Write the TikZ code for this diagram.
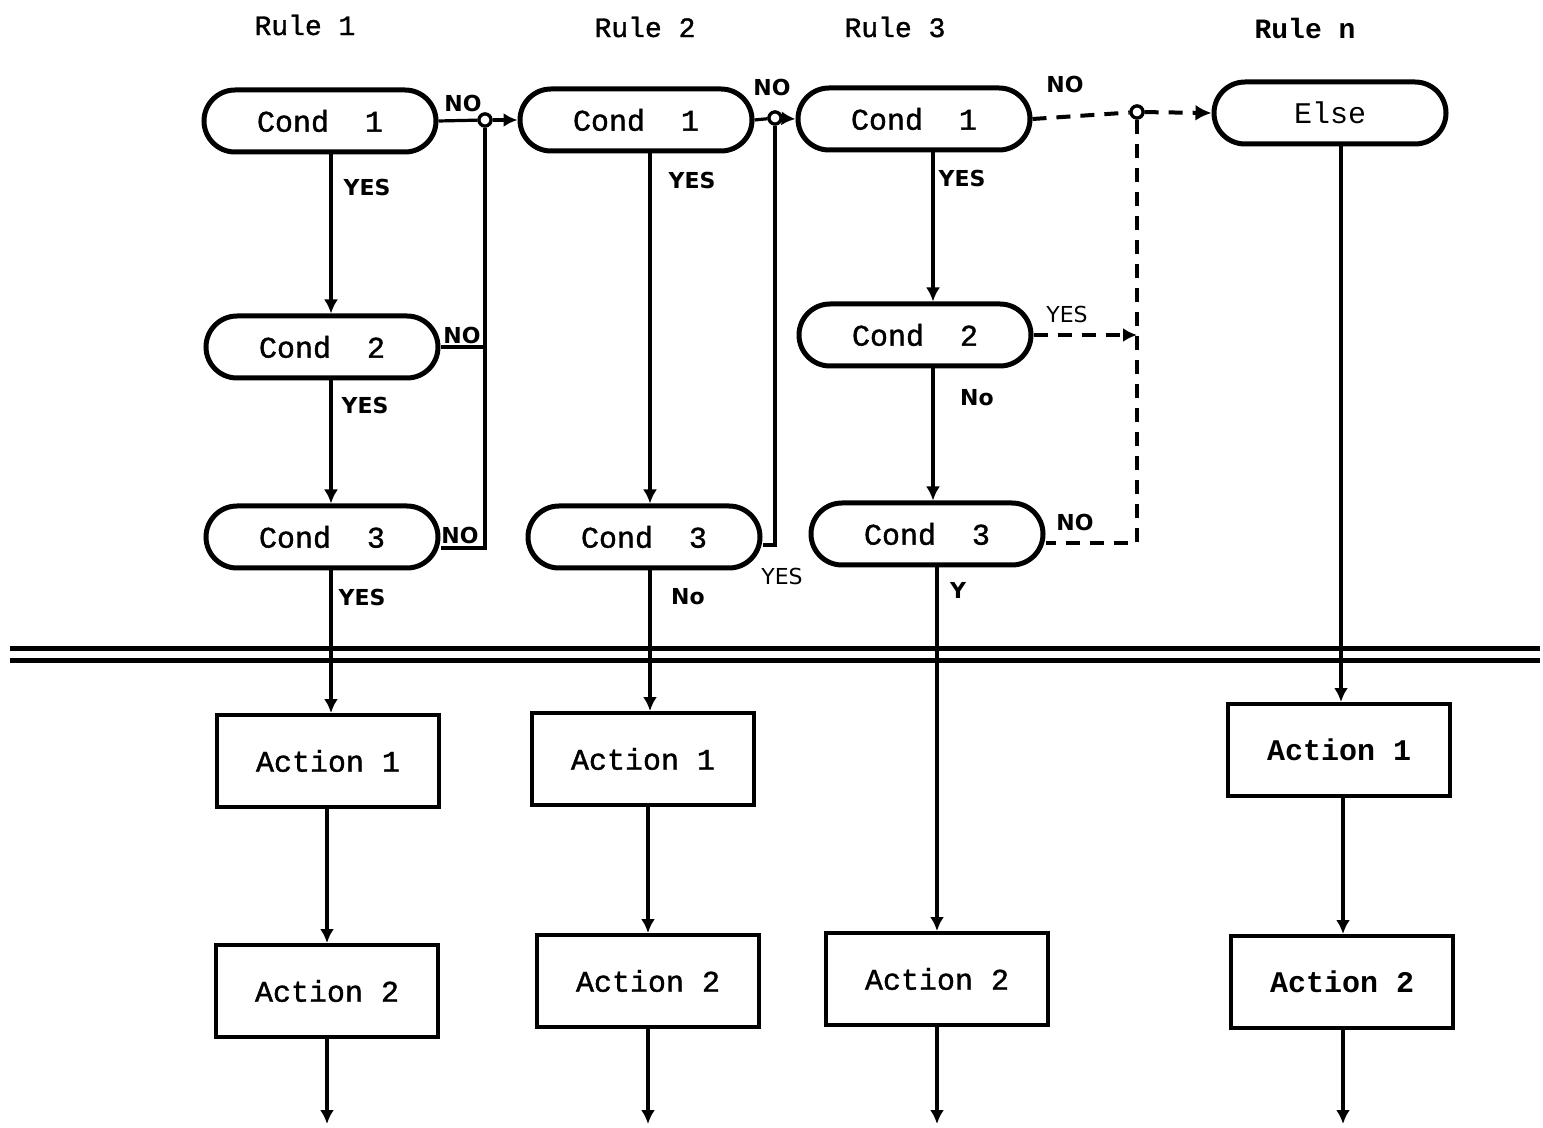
\documentclass[tikz,border=0pt]{standalone}
\usepackage{fontspec}
\setmonofont{Liberation Mono}
\newfontfamily\medmono{Liberation Mono}[FakeBold=1.3]
\newfontfamily\handfont{DejaVu Sans}
\usetikzlibrary{arrows.meta}
\begin{document}
\begin{tikzpicture}[x=0.5pt,y=-0.5pt,
  txt/.style={font=\medmono\fontsize{15}{15}\selectfont},
  cond/.style={draw, line width=2.5pt, rounded corners=15.5pt, minimum width=116pt, minimum height=31pt, inner sep=0pt, txt},
  act/.style={draw, line width=2pt, minimum width=111pt, minimum height=46pt, inner sep=0pt, txt},
  conn/.style={line width=1.6pt},
  arr/.style={conn, -{Latex[length=7pt,width=7pt]}},
  dsh/.style={line width=2pt, dash pattern=on 7pt off 5pt},
  lab/.style={font=\handfont\bfseries\fontsize{11}{11}\selectfont, inner sep=1pt},
  thinlab/.style={font=\handfont\fontsize{11}{11}\selectfont, inner sep=1pt},
  jn/.style={circle, draw, line width=1.6pt, fill=white, inner sep=0pt, minimum size=6pt},
  rule/.style={font=\medmono\fontsize{14}{14}\selectfont}]
\useasboundingbox (0,0) rectangle (1543,1128);
% rule titles
\node[rule] (r1) at (305,25) {Rule 1};
\node[rule] (r2) at (645,27) {Rule 2};
\node[rule] (r3) at (895,27) {Rule 3};
\node[rule, font=\ttfamily\bfseries\fontsize{14}{14}\selectfont] (rn) at (1305,28) {Rule n};
% conditions
\node[cond] (c1a) at (320,121) {Cond\ \ 1};
\node[cond] (c1b) at (322,347) {Cond\ \ 2};
\node[cond] (c1c) at (322,537) {Cond\ \ 3};
\node[cond] (c2a) at (636,120) {Cond\ \ 1};
\node[cond] (c2c) at (644,537) {Cond\ \ 3};
\node[cond] (c3a) at (914,119) {Cond\ \ 1};
\node[cond] (c3b) at (915,335) {Cond\ \ 2};
\node[cond] (c3c) at (927,534) {Cond\ \ 3};
\node[cond, font=\ttfamily\fontsize{15}{15}\selectfont] (els) at (1330,113) {Else};
% actions
\node[act] (a1a) at (328,761) {Action 1};
\node[act] (a1b) at (327,991) {Action 2};
\node[act] (a2a) at (643,759) {Action 1};
\node[act] (a2b) at (648,981) {Action 2};
\node[act] (a3b) at (937,979) {Action 2};
\node[act, font=\ttfamily\bfseries\fontsize{15}{15}\selectfont] (ana) at (1339,750) {Action 1};
\node[act, font=\ttfamily\bfseries\fontsize{15}{15}\selectfont] (anb) at (1342,982) {Action 2};
% double separator
\coordinate (sl1) at (10,648); \coordinate (sr1) at (1540,648);
\coordinate (sl2) at (10,660); \coordinate (sr2) at (1540,660);
\draw[line width=2.5pt] (sl1) -- (sr1);
\draw[line width=2.5pt] (sl2) -- (sr2);
% columns
\coordinate (x1) at (331,0); \coordinate (x2) at (650,0);
\coordinate (x3) at (933,0); \coordinate (x4) at (1341,0);
\coordinate (e1) at (327,1124); \coordinate (e2) at (648,1124);
\coordinate (e3) at (937,1124); \coordinate (e4) at (1343,1124);
% rule 1 column
\draw[arr] (c1a.south -| x1) -- (c1b.north -| x1);
\draw[arr] (c1b.south -| x1) -- (c1c.north -| x1);
\draw[arr] (c1c.south -| x1) -- (a1a.north -| x1);
\draw[arr] (a1a.south -| e1) -- (a1b.north -| e1);
\draw[arr] (a1b.south -| e1) -- (e1);
% rule 2 column
\draw[arr] (c2a.south -| x2) -- (c2c.north -| x2);
\draw[arr] (c2c.south -| x2) -- (a2a.north -| x2);
\draw[arr] (a2a.south -| e2) -- (a2b.north -| e2);
\draw[arr] (a2b.south -| e2) -- (e2);
% rule 3 column
\draw[arr] (c3a.south -| x3) -- (c3b.north -| x3);
\draw[arr] (c3b.south -| x3) -- (c3c.north -| x3);
\draw[arr] (c3c.south -| e3) -- (a3b.north -| e3);
\draw[arr] (a3b.south -| e3) -- (e3);
% rule n column
\draw[arr] (els.south -| x4) -- (ana.north -| x4);
\draw[arr] (ana.south -| e4) -- (anb.north -| e4);
\draw[arr] (anb.south -| e4) -- (e4);
% rule 1 NO path
\coordinate (k1) at (485,548);
\node[jn] (j1) at (485,120) {};
\draw[conn] (c1a.east) -- (j1);
\draw[arr] (j1) -- (c2a.west);
\draw[conn] (j1) -- (k1) -- (k1 -| c1c.east);
\draw[conn] (c1b.east) -- (c1b.east -| j1);
\node[jn] at (j1) {};
% rule 2 NO path
\coordinate (k2) at (775,545);
\node[jn] (j2) at (775,118) {};
\draw[conn] (c2a.east) -- (j2);
\draw[arr] (j2) -- (c3a.west);
\draw[conn] (j2) -- (k2) -- (k2 -| c2c.east);
\node[jn] at (j2) {};
% rule 3 dashed path
\coordinate (k3) at (1137,543);
\node[jn] (j3) at (1137,112) {};
\draw[dsh] (c3a.east) -- (j3);
\draw[dsh, -{Latex[length=8pt,width=8pt]}] (j3) -- (els.west);
\draw[dsh] (j3) -- (k3) -- (k3 -| c3c.east);
\draw[dsh, -{Latex[length=7pt,width=7pt]}] (c3b.east) -- (c3b.east -| j3);
\node[jn] at (j3) {};
% labels
\node[lab] (n1) at (463,103) {NO};
\node[lab] (n2) at (462,335) {NO};
\node[lab] (n3) at (460,535) {NO};
\node[lab] (n4) at (772,87) {NO};
\node[thinlab] (y4) at (782,576) {YES};
\node[lab] (n5) at (1065,84) {NO};
\node[thinlab] (y5) at (1067,314) {YES};
\node[lab] (n6) at (1075,522) {NO};
\node[lab] (y1) at (367,187) {YES};
\node[lab] (y2) at (365,405) {YES};
\node[lab] (y3) at (362,597) {YES};
\node[lab] (y6) at (692,180) {YES};
\node[lab] (n7) at (688,597) {No};
\node[lab] (y7) at (962,178) {YES};
\node[lab] (n8) at (977,398) {No};
\node[lab] (y8) at (958,590) {Y};
\end{tikzpicture}
\end{document}
